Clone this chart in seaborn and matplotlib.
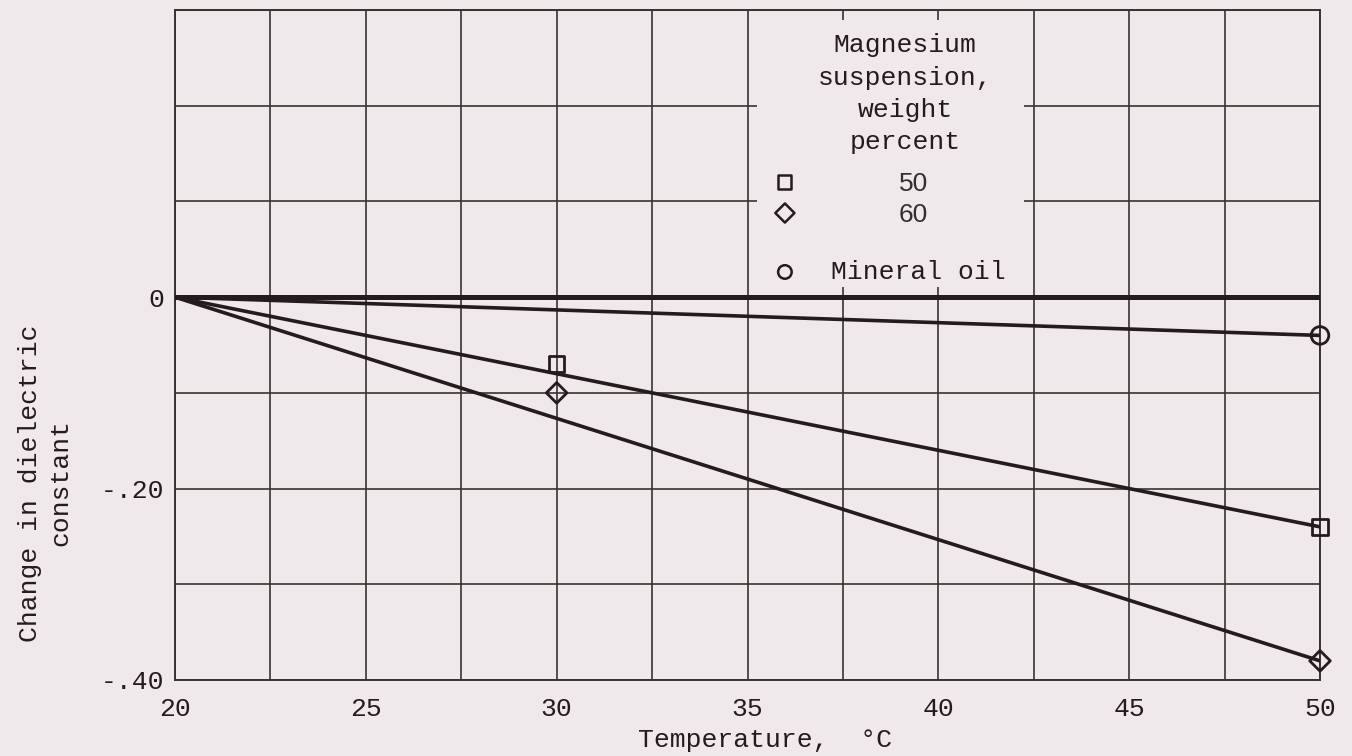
import matplotlib
matplotlib.use("Agg")
import matplotlib.pyplot as plt
import seaborn as sns
import pandas as pd
from matplotlib.patches import Rectangle

# Measured points: change in dielectric constant vs temperature
temp_mg50 = [30, 50]
change_mg50 = [-0.07, -0.24]
temp_mg60 = [30, 50]
change_mg60 = [-0.10, -0.38]
temp_oil = [50]
change_oil = [-0.04]

# Faired lines, all starting from zero change at 20 C
fair_temps = [20, 50]
fair_mg50 = [0.0, -0.24]
fair_mg60 = [0.0, -0.38]
fair_oil = [0.0, -0.04]

x_ticks = [20, 25, 30, 35, 40, 45, 50]
y_ticks = [0.0, -0.20, -0.40]
y_tick_labels = ["0", "-.20", "-.40"]

BG = "#efe9eb"
INK = "#241b1e"
GRID = "#35342e"
MONO = ["Liberation Mono", "DejaVu Sans Mono"]

sns.set_theme(style="white")
plt.rcParams["font.family"] = MONO

fig = plt.figure(figsize=(13.52, 7.56), dpi=100, facecolor=BG)
ax = fig.add_axes([175 / 1352, 1 - 680 / 756, 1145 / 1352, 670 / 756])
ax.set_facecolor(BG)

ax.set_xlim(20, 50)
ax.set_ylim(-0.40, 0.30)

# Grid every 2.5 C and every 0.1
for gx in [20 + 2.5 * i for i in range(13)]:
    ax.axvline(gx, color=GRID, lw=1.2, zorder=1)
for gy in [-0.4 + 0.1 * i for i in range(8)]:
    ax.axhline(gy, color=GRID, lw=1.2, zorder=1)

for s in ax.spines.values():
    s.set_color(GRID)
    s.set_linewidth(1.4)

# Heavy zero reference line
ax.axhline(0, color=INK, lw=3.6, zorder=3)

lines = pd.DataFrame({
    "temp": fair_temps * 3,
    "change": fair_mg50 + fair_mg60 + fair_oil,
    "series": ["50"] * 2 + ["60"] * 2 + ["oil"] * 2,
})
sns.lineplot(data=lines, x="temp", y="change", units="series", estimator=None,
             color=INK, lw=2.6, ax=ax, zorder=4, legend=False)

common = dict(facecolors="none", edgecolor=INK, linewidth=2.0, zorder=5,
              ax=ax, legend=False, clip_on=False)
sns.scatterplot(x=temp_mg50, y=change_mg50, marker="s", s=125, **common)
sns.scatterplot(x=temp_mg60, y=change_mg60, marker="D", s=110, **common)
sns.scatterplot(x=temp_oil, y=change_oil, marker="o", s=160, **common)

# Key area: blank out grid behind it
ax.add_patch(Rectangle((35.26, 0.0105), 6.98, 0.279, facecolor=BG,
                       edgecolor="none", zorder=2))
fs = 19
for txt, yy in [("Magnesium", 0.2634), ("suspension,", 0.2290),
                ("weight", 0.1955), ("percent", 0.1621)]:
    ax.text(39.13, yy, txt, ha="center", va="center", fontsize=fs,
            color=INK, zorder=6)
ax.scatter([35.98], [0.1203], marker="s", s=90, facecolors="none",
           edgecolors=INK, linewidths=1.8, zorder=6)
ax.scatter([35.98], [0.0879], marker="D", s=95, facecolors="none",
           edgecolors=INK, linewidths=1.8, zorder=6)
ax.scatter([35.98], [0.0263], marker="o", s=95, facecolors="none",
           edgecolors=INK, linewidths=1.8, zorder=6)
ax.text(39.34, 0.1182, "50", ha="center", va="center", fontsize=19,
        family="Liberation Sans", color="#352e31", zorder=6)
ax.text(39.34, 0.0858, "60", ha="center", va="center", fontsize=19,
        family="Liberation Sans", color="#352e31", zorder=6)
ax.text(37.20, 0.0263, "Mineral oil", ha="left", va="center", fontsize=fs,
        color=INK, zorder=6)

ax.set_xticks(x_ticks)
ax.set_xticklabels([str(v) for v in x_ticks])
ax.set_yticks(y_ticks)
ax.set_yticklabels(y_tick_labels)
ax.tick_params(axis="both", length=0, labelsize=fs, colors=INK)
ax.tick_params(axis="x", pad=12)
ax.tick_params(axis="y", pad=8)
ax.set_xlabel("")
ax.set_ylabel("")

fig.text(765 / 1352, 1 - 740 / 756, "Temperature,  \u00b0C", ha="center",
         va="center", fontsize=fs, color=INK)
fig.text(45 / 1352, 1 - 483 / 756, "Change in dielectric\nconstant",
         rotation=90, ha="center", va="center", multialignment="center",
         fontsize=fs, color=INK, linespacing=1.35)

fig.savefig("out.png", dpi=100, facecolor=BG)
